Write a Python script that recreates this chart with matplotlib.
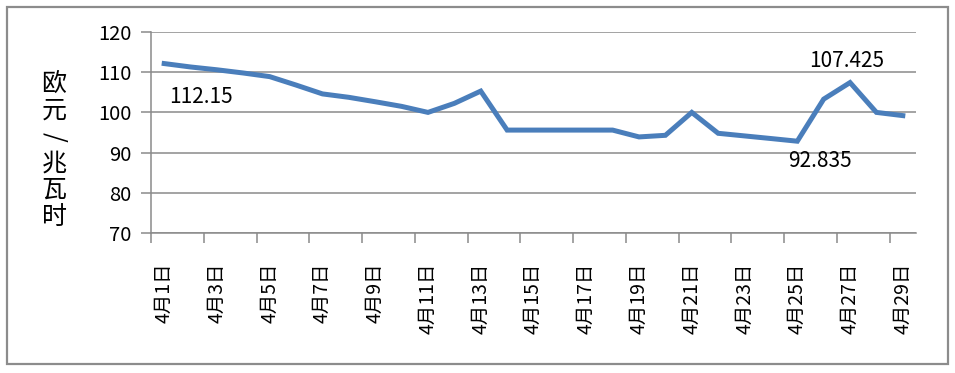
import matplotlib
matplotlib.use("Agg")
import matplotlib.pyplot as plt
from matplotlib.patches import Rectangle

plt.rcParams['font.family'] = ['Noto Sans CJK SC', 'DejaVu Sans']

dates = [f"4月{d}日" for d in range(1, 30)]
prices = [112.15, 111.3, 110.6, 109.8, 108.9, 106.8, 104.6, 103.75, 102.65, 101.5,
          100.0, 102.25, 105.3, 95.6, 95.6, 95.6, 95.6, 95.6, 93.9, 94.3,
          100.0, 94.8, 94.15, 93.5, 92.835, 103.3, 107.425, 100.0, 99.2]
yticks = [70, 80, 90, 100, 110, 120]
annot = [(0, "112.15", (37, -33)), (24, "92.835", (23, -20)), (26, "107.425", (-3, 22))]
ylabel_chars = ["欧", "元", "/", "兆", "瓦", "时"]

W, H = 955, 373
fig = plt.figure(figsize=(W / 100, H / 100), dpi=100)
fig.patches.append(Rectangle((7 / W, 1 - 364 / H), 941 / W, 357 / H, transform=fig.transFigure,
                             fill=False, edgecolor="#8c8c8c", linewidth=1.6))

ax = fig.add_axes([151 / W, 1 - 233 / H, (916 - 151) / W, (233 - 32) / H])
x = list(range(len(prices)))
ax.plot(x, prices, color="#4a7ebb", linewidth=3.6, solid_joinstyle="miter", zorder=3)

ax.set_ylim(70, 120)
ax.set_xlim(-0.5, len(prices) - 0.5)
ax.set_yticks(yticks)
ax.set_yticklabels([str(v) for v in yticks], fontsize=14.5)
ax.yaxis.grid(True, color="#8a8a8a", linewidth=1.1)
ax.set_axisbelow(True)

ax.set_xticks(x[::2])
ax.set_xticklabels(dates[::2], rotation=90, fontsize=14, va="top")
ax.set_xticks([i - 0.5 for i in range(0, len(prices), 2)], minor=True)
ax.tick_params(axis="x", which="major", length=0, pad=21)
ax.tick_params(axis="x", which="minor", length=7, color="#8a8a8a", width=1.1)
ax.tick_params(axis="y", length=7, color="#8a8a8a", width=1.1, pad=7)

for s in ["top", "right"]:
    ax.spines[s].set_visible(False)
for s in ["left", "bottom"]:
    ax.spines[s].set_color("#8a8a8a")
    ax.spines[s].set_linewidth(1.1)

for i, txt, off in annot:
    ax.annotate(txt, (i, prices[i]), xytext=off, textcoords="offset pixels",
                ha="center", va="center", fontsize=15, color="black")

for k, ch in enumerate(ylabel_chars):
    fig.text(54 / W, 1 - (84 + k * 26.5) / H, ch, ha="center", va="center",
             fontsize=18, rotation=(-90 if ch == "/" else 0))

fig.savefig("out.png", dpi=100)
